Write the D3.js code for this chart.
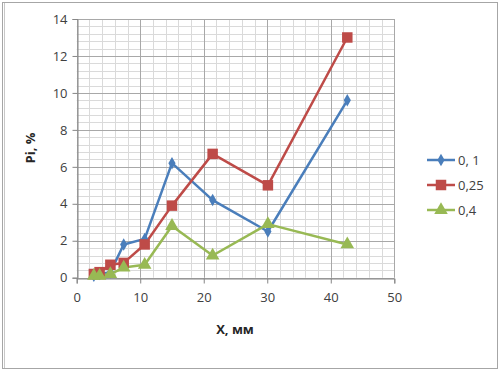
<!DOCTYPE html>
<html>
<head>
<meta charset="utf-8">
<script src="https://cdn.jsdelivr.net/npm/d3@7"></script>
<style>
  body { margin: 0; background: #fff; }
  svg text { font-family: "Open Sans", "DejaVu Sans", sans-serif; }
</style>
</head>
<body>
<script>
var xValues = [2.7, 3.6, 5.3, 7.4, 10.7, 15.0, 21.4, 30.1, 42.6];
var series01 = [0.1, 0.2, 0.3, 1.8, 2.1, 6.2, 4.2, 2.5, 9.6];
var series025 = [0.2, 0.3, 0.7, 0.8, 1.8, 3.9, 6.7, 5.0, 13.0];
var series04 = [0.1, 0.1, 0.2, 0.55, 0.7, 2.8, 1.2, 2.9, 1.8];
var seriesNames = ["0, 1", "0,25", "0,4"];
var seriesColors = ["#4A7EBB", "#BE4B48", "#98B954"];
var xTicks = [0, 10, 20, 30, 40, 50];
var yTicks = [0, 2, 4, 6, 8, 10, 12, 14];

var width = 501, height = 371;
var svg = d3.select("body").append("svg").attr("width", width).attr("height", height);

// outer frame
svg.append("rect").attr("x", 2.5).attr("y", 2.5).attr("width", 495).attr("height", 366)
    .attr("fill", "#fff").attr("stroke", "#a6a6a6").attr("stroke-width", 1);
svg.append("line").attr("x1", 4.5).attr("x2", 4.5).attr("y1", 3).attr("y2", 368)
    .attr("stroke", "#c8c8c8");

var x = d3.scaleLinear().domain([0, 50]).range([76.7, 394.3]);
var y = d3.scaleLinear().domain([0, 14]).range([277.7, 19]);

// minor grid
var g = svg.append("g");
g.selectAll("line.vminor")
    .data(d3.range(0, 50.01, 2))
    .enter().append("line")
    .attr("x1", function(d){ return Math.round(x(d)) + 0.5; })
    .attr("x2", function(d){ return Math.round(x(d)) + 0.5; })
    .attr("y1", y(14)).attr("y2", y(0))
    .attr("stroke", "#dadada");
g.selectAll("line.hminor")
    .data(d3.range(0, 14.01, 0.4))
    .enter().append("line")
    .attr("y1", function(d){ return Math.round(y(d)) + 0.5; })
    .attr("y2", function(d){ return Math.round(y(d)) + 0.5; })
    .attr("x1", x(0)).attr("x2", x(50))
    .attr("stroke", "#dadada");
// major grid
g.selectAll("line.vmajor")
    .data(xTicks)
    .enter().append("line")
    .attr("x1", function(d){ return Math.round(x(d)) + 0.5; })
    .attr("x2", function(d){ return Math.round(x(d)) + 0.5; })
    .attr("y1", y(14)).attr("y2", y(0))
    .attr("stroke", "#a8a8a8");
g.selectAll("line.hmajor")
    .data(yTicks)
    .enter().append("line")
    .attr("y1", function(d){ return Math.round(y(d)) + 0.5; })
    .attr("y2", function(d){ return Math.round(y(d)) + 0.5; })
    .attr("x1", x(0)).attr("x2", x(50))
    .attr("stroke", "#a8a8a8");

// axes
var xAxis = d3.axisBottom(x).tickValues(xTicks).tickSize(5).tickPadding(9);
var yAxis = d3.axisLeft(y).tickValues(yTicks).tickSize(5).tickPadding(5);

svg.append("g").attr("transform", "translate(0," + (Math.round(y(0)) + 0.5) + ")").call(xAxis)
    .call(function(s){
        s.select(".domain").attr("stroke", "#868686");
        s.selectAll(".tick line").attr("stroke", "#868686");
        s.selectAll(".tick text").attr("font-size", 13).attr("fill", "#404040");
    });
svg.append("g").attr("transform", "translate(" + (Math.round(x(0)) + 0.5) + ",0)").call(yAxis)
    .call(function(s){
        s.select(".domain").attr("stroke", "#868686");
        s.selectAll(".tick line").attr("stroke", "#868686");
        s.selectAll(".tick text").attr("font-size", 13).attr("fill", "#404040");
    });

// axis titles
svg.append("text").attr("x", 235).attr("y", 334).attr("text-anchor", "middle")
    .attr("font-size", 13).attr("font-weight", "bold").attr("fill", "#262626")
    .text("X, мм");
svg.append("text").attr("transform", "translate(35,148) rotate(-90)").attr("text-anchor", "middle")
    .attr("font-size", 13).attr("font-weight", "bold").attr("fill", "#262626")
    .text("Pi, %");

var allSeries = [series01, series025, series04];
var line = d3.line()
    .x(function(d){ return x(d[0]); })
    .y(function(d){ return y(d[1]); });

var symbols = [d3.symbolDiamond, d3.symbolSquare, d3.symbolTriangle];
var symbolSizes = [45, 110, 80];

allSeries.forEach(function(vals, si){
    var pts = xValues.map(function(xv, i){ return [xv, vals[i]]; });
    svg.append("path").datum(pts)
        .attr("fill", "none")
        .attr("stroke", seriesColors[si])
        .attr("stroke-width", 2.5)
        .attr("stroke-linejoin", "round")
        .attr("d", line);
});
allSeries.forEach(function(vals, si){
    var pts = xValues.map(function(xv, i){ return [xv, vals[i]]; });
    svg.selectAll("path.m" + si)
        .data(pts)
        .enter().append("path")
        .attr("class", "m" + si)
        .attr("transform", function(d){ return "translate(" + x(d[0]) + "," + y(d[1]) + ")"; })
        .attr("d", d3.symbol().type(symbols[si]).size(symbolSizes[si]))
        .attr("fill", seriesColors[si]);
});

// legend
var legY = [160, 185, 210];
var leg = svg.selectAll("g.leg")
    .data(seriesNames)
    .enter().append("g")
    .attr("class", "leg")
    .attr("transform", function(d, i){ return "translate(427," + legY[i] + ")"; });
leg.append("line").attr("x1", 0).attr("x2", 28).attr("y1", 0).attr("y2", 0)
    .attr("stroke", function(d, i){ return seriesColors[i]; }).attr("stroke-width", 2.5);
leg.append("path")
    .attr("transform", "translate(14,0)")
    .attr("d", function(d, i){ return d3.symbol().type(symbols[i]).size(symbolSizes[i])(); })
    .attr("fill", function(d, i){ return seriesColors[i]; });
leg.append("text").attr("x", 31).attr("y", 4.5)
    .attr("font-size", 13).attr("fill", "#404040")
    .text(function(d){ return d; });
</script>
</body>
</html>
